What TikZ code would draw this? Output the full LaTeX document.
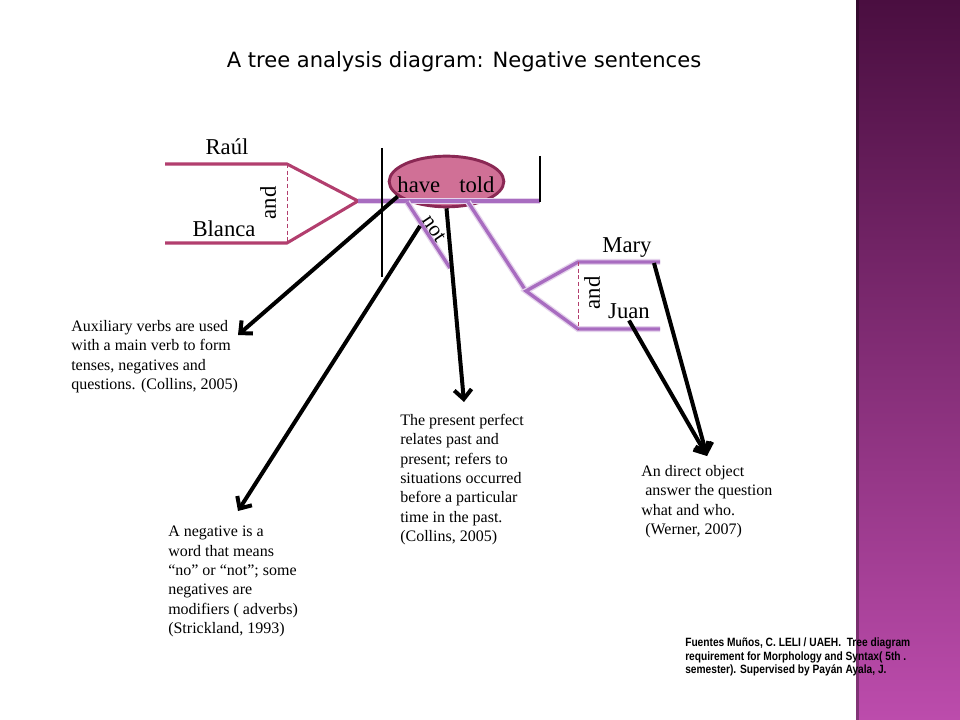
\documentclass[tikz,border=0pt]{standalone}
\usepackage{fontspec}
\setmainfont{Liberation Serif}
\newfontfamily\titlefont{DejaVu Sans}
\newfontfamily\creditfont[FakeStretch=0.85]{Liberation Sans}
\usetikzlibrary{arrows.meta}
\usetikzlibrary{shapes.geometric}

\definecolor{subjcol}{RGB}{178,62,110}
\definecolor{predcol}{RGB}{168,108,192}
\definecolor{verbfill}{RGB}{208,112,150}
\definecolor{verbline}{RGB}{138,40,84}
\definecolor{bandtop}{RGB}{74,14,64}
\definecolor{bandbot}{RGB}{188,76,172}

\tikzset{
  subjline/.style={draw=subjcol, line width=2.3pt},
  predline/.style={draw=predcol, line width=2.5pt, preaction={draw=predcol!30, line width=4.5pt}},
  joinline/.style={draw=subjcol, densely dashed, line width=0.5pt},
  wordlabel/.style={inner sep=0.75pt, font=\fontsize{17}{20}\selectfont},
  notebox/.style={anchor=north west, inner sep=0.75pt, align=left, font=\fontsize{12}{14.5}\selectfont},
  pointer/.style={draw=black, line width=3pt, -{Straight Barb[length=7pt,width=13pt]}},
}

\begin{document}
\begin{tikzpicture}[x=0.75pt,y=0.75pt,yscale=-1,xscale=1]
\useasboundingbox (0,0) rectangle (960,720);

%Background and side band
\fill[white] (0,0) rectangle (960,720);
\shade[top color=bandtop, bottom color=bandbot] (856,0) rectangle (960,720);
\fill[black, opacity=0.3] (856,0) rectangle (859,720);

% Text Node
\node[anchor=base, inner sep=0.75pt, font=\titlefont\fontsize{15.8}{19}\selectfont] (title) at (464,68) {A tree analysis diagram: Negative sentences};

%Tree points
\coordinate (raulL) at (165,164);
\coordinate (raulR) at (287,164);
\coordinate (blancaL) at (165,243);
\coordinate (blancaR) at (287,243);
\coordinate (subj) at (358,201);
\coordinate (predR) at (540,201);
\coordinate (notA) at (407,202);
\coordinate (notB) at (450,268);
\coordinate (objA) at (468,202);
\coordinate (obj) at (526,291);
\coordinate (maryL) at (578,262);
\coordinate (maryR) at (660,262);
\coordinate (juanL) at (578,329);
\coordinate (juanR) at (660,329);

%Verb ellipse
\node[ellipse, draw=verbline, fill=verbfill, line width=2.2pt, minimum width=86pt, minimum height=38pt, inner sep=0pt] (verb) at (446.5,181.5) {};

%Subject bracket
\draw[subjline] (raulL) -- (raulR) -- (subj) -- (blancaR) -- (blancaL);
\draw[joinline] (raulR) -- (blancaR);
%Predicate lines
\draw[predline] (subj) -- (predR);
\draw[predline] (notA) -- (notB);
\draw[predline] (objA) -- (obj);
%Object bracket
\draw[predline] (maryR) -- (maryL) -- (obj) -- (juanL) -- (juanR);
\draw[joinline] (maryL) -- (juanL);

%Straight Lines
\draw[line width=1.5pt] (382,148) -- (382,277);
\draw[line width=1.5pt] (540,156) -- (540,202);

% Text Node
\node[wordlabel, anchor=base] (verbtext) at (446,193) {have\hspace{10pt} told};
\node[wordlabel, anchor=base] (raul) at (227,155) {Raúl};
\node[wordlabel, anchor=base] (blanca) at (224,237) {Blanca};
\node[wordlabel, rotate=90] (andL) at (268,203) {and};
\node[wordlabel, inner sep=0pt, font=\fontsize{16}{18}\selectfont, rotate=-56] (not) at (434,229) {not};
\node[wordlabel, anchor=base] (mary) at (627,253) {Mary};
\node[wordlabel, anchor=base] (juan) at (629,319) {Juan};
\node[wordlabel, rotate=90] (andR) at (592,293) {and};

% Text Node
\node[notebox] (auxnote) at (70,319) {Auxiliary verbs are used\\with a main verb to form\\tenses, negatives and\\questions. (Collins, 2005)};
\node[notebox] (negnote) at (167,525) {A negative is a\\word that means\\“no” or “not”; some\\negatives are\\modifiers ( adverbs)\\(Strickland, 1993)};
\node[notebox] (perfnote) at (399,413) {The present perfect\\relates past and\\present; refers to\\situations occurred\\before a particular\\time in the past.\\(Collins, 2005)};
\node[notebox] (objnote) at (640,464) {An direct object\\\hspace{3pt}answer the question\\what and who.\\\hspace{3pt}(Werner, 2007)};

%Arrow points
\coordinate (notfoot) at (420,226);
\coordinate (maryfoot) at (654,263);
\coordinate (auxtip) at (238,335);
\coordinate (negtip) at (238,511);
\coordinate (perftip) at (464,402);
\coordinate (objtip) at (707,456);

%Arrows
\draw[pointer] (verb.197) -- (auxtip);
\draw[pointer] (notfoot) -- (negtip);
\draw[pointer] (verb.south) -- (perftip);
\draw[pointer] (juan.south) -- (objtip);
\draw[pointer] (maryfoot) -- (objtip);

% Text Node
\node[anchor=north west, inner sep=0pt, align=left, font=\creditfont\bfseries\fontsize{9}{9.8}\selectfont] (credit) at (685,638) {Fuentes Muños, C. LELI / UAEH.\ \ Tree diagram\\requirement for Morphology and Syntax( 5th .\\semester). Supervised by Payán Ayala, J.};

\end{tikzpicture}
\end{document}
